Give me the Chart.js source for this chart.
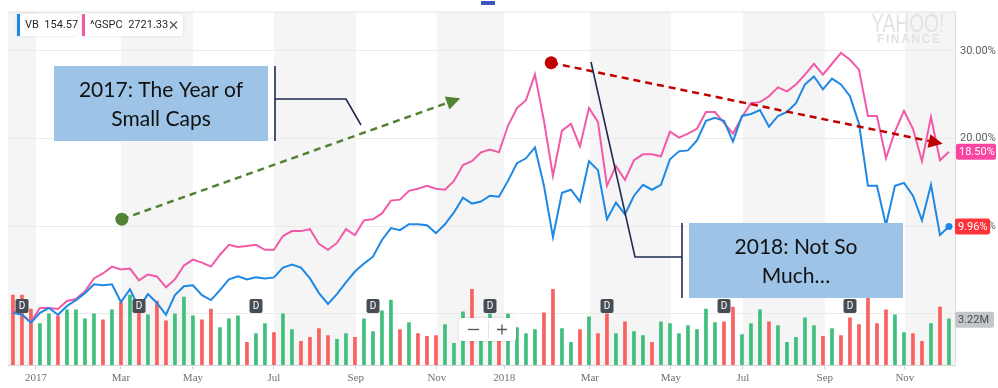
<!DOCTYPE html>
<html>
<head>
<meta charset="utf-8">
<script src="https://cdn.jsdelivr.net/npm/chart.js@4.4.1/dist/chart.umd.min.js"></script>
<style>
  html, body { margin: 0; padding: 0; background: #fff; }
  #wrap { width: 998px; height: 388px; position: relative; }
</style>
</head>
<body>
<div id="wrap"><canvas id="chart"></canvas></div>
<script>
// weekly closes, Dec 2016 - Dec 2018, % change since the first week
var vbPct = [
  0.11, -0.11, -1.01, 0.11, 0.67, -0.11, 0.90, 1.57, 2.36, 3.37,
  3.26, 3.37, 1.35, 2.81, 0.67, 2.25, 1.24, -0.11, 2.13, 3.15,
  3.26, 2.13, 1.57, 2.70, 3.93, 4.27, 3.93, 4.16, 4.04, 4.16,
  5.28, 5.62, 5.28, 4.04, 2.36, 1.12, 2.25, 3.60, 4.83, 5.73,
  6.52, 8.43, 9.78, 9.55, 10.22, 10.22, 10.11, 9.21, 10.22, 11.57,
  13.26, 12.58, 12.81, 13.48, 13.37, 15.17, 17.19, 17.75, 18.99, 14.61,
  8.76, 13.82, 14.16, 12.81, 17.42, 16.40, 10.79, 12.70, 11.35, 13.48,
  14.72, 14.16, 14.72, 17.64, 18.54, 18.65, 19.78, 22.02, 22.36, 22.02,
  19.66, 22.58, 22.81, 23.26, 21.35, 22.58, 23.03, 24.04, 26.18, 27.08,
  25.62, 26.85, 26.18, 24.83, 21.69, 14.61, 14.61, 10.11, 14.61, 14.94,
  13.48, 10.67, 14.72, 8.99, 9.96
];
var gspcPct = [
  0.34, -0.11, -0.90, 0.67, 0.67, 0.56, 1.46, 1.69, 2.58, 4.04,
  4.61, 5.39, 5.06, 5.17, 3.82, 4.49, 4.27, 3.03, 3.93, 5.51,
  6.18, 5.84, 5.39, 6.74, 7.87, 7.64, 7.75, 7.87, 7.30, 7.30,
  8.88, 9.44, 9.44, 9.66, 7.98, 7.30, 8.09, 9.66, 8.99, 10.67,
  10.79, 11.46, 12.92, 13.03, 14.04, 14.27, 14.61, 14.27, 14.16, 15.17,
  16.97, 17.42, 18.43, 18.76, 18.43, 21.46, 23.48, 24.38, 27.30, 22.02,
  15.73, 20.90, 21.69, 19.10, 23.48, 21.91, 14.61, 16.85, 15.28, 17.53,
  18.20, 18.20, 17.98, 20.79, 20.11, 20.56, 21.12, 23.03, 23.03, 21.80,
  20.56, 22.47, 24.04, 24.16, 24.83, 25.84, 25.39, 26.18, 27.30, 28.54,
  27.30, 28.54, 29.78, 28.99, 27.87, 22.58, 22.58, 17.75, 20.79, 23.15,
  21.12, 17.42, 22.47, 17.53, 18.50
];
// VB weekly volume, millions of shares, and week direction (1 up, -1 down)
var vbVolume = [
  4.86, 4.86, 3.90, 2.88, 3.56, 3.42, 3.84, 3.84, 3.22, 3.56,
  3.15, 3.84, 4.38, 4.86, 4.25, 3.49, 4.45, 3.08, 3.56, 4.73,
  3.42, 3.15, 3.90, 2.60, 3.22, 3.42, 1.58, 2.19, 2.88, 2.26,
  3.56, 2.47, 1.64, 1.92, 2.53, 2.05, 1.78, 2.19, 1.92, 3.22,
  2.33, 3.77, 4.52, 2.47, 2.95, 2.19, 1.99, 2.05, 2.81, 1.51,
  3.70, 5.27, 2.40, 3.56, 2.40, 3.56, 2.60, 2.19, 2.47, 3.63,
  5.27, 2.53, 1.58, 2.47, 3.36, 2.19, 3.56, 2.19, 3.01, 2.33,
  2.05, 1.58, 3.01, 2.88, 2.19, 2.74, 2.47, 3.90, 2.95, 3.01,
  4.04, 2.12, 2.88, 3.84, 3.01, 2.74, 1.58, 1.92, 3.29, 2.74,
  1.99, 2.53, 2.05, 3.29, 2.81, 4.73, 2.88, 3.84, 3.49, 2.26,
  2.19, 1.64, 2.88, 4.04, 3.22
];
var vbUpDown = [
  -1,-1,-1, 1, 1,-1, 1, 1, 1, 1,
  -1, 1,-1, 1,-1, 1,-1,-1, 1, 1,
   1,-1,-1, 1, 1, 1,-1, 1, 1,-1,
   1, 1,-1,-1,-1,-1, 1, 1,-1, 1,
   1, 1, 1,-1, 1,-1,-1,-1, 1, 1,
   1,-1, 1, 1,-1, 1, 1, 1, 1,-1,
  -1, 1, 1,-1, 1,-1,-1, 1,-1, 1,
   1,-1, 1, 1, 1, 1, 1, 1, 1,-1,
  -1, 1, 1, 1,-1, 1, 1, 1, 1, 1,
  -1, 1,-1,-1,-1,-1,-1,-1, 1, 1,
  -1,-1, 1,-1, 1
];
var dividendWeeks = [1, 14, 27, 40, 53, 66, 79, 93];

// x axis: month ticks in week units
var tickPos = [2.56, 12.0, 20.0, 29.0, 38.1, 47.1, 54.6, 64.1, 73.1, 81.1, 90.2, 99.1];
var tickLabels = ["2017", "Mar", "May", "Jul", "Sep", "Nov", "2018", "Mar", "May", "Jul", "Sep", "Nov"];
var priceTicks = [0, 10, 20, 30];

var lastVB = vbPct[vbPct.length - 1];
var lastGSPC = gspcPct[gspcPct.length - 1];
var lastVol = vbVolume[vbVolume.length - 1];

// annotation arrows, in chart units (week, %)
var arrows = [
  { from: { x: 12.1, y: 10.8 }, to: { x: 49.7, y: 24.6 }, color: "#548235" },
  { from: { x: 59.8, y: 28.65 }, to: { x: 103.3, y: 19.4 }, color: "#c00000" }
];

function toPoints(arr) {
  var out = [];
  for (var i = 0; i < arr.length; i++) out.push({ x: i, y: arr[i] });
  return out;
}

var bands = {
  id: "bands",
  beforeDraw: function (c) {
    var a = c.chartArea, sx = c.scales.x, g = c.ctx;
    var edges = [sx.min].concat(tickPos, [sx.max]);
    g.save();
    g.fillStyle = "#f5f5f5";
    for (var k = 0; k < edges.length - 1; k += 2) {
      var x0 = sx.getPixelForValue(edges[k]), x1 = sx.getPixelForValue(edges[k + 1]);
      g.fillRect(x0, a.top, x1 - x0, a.bottom - a.top);
    }
    g.strokeStyle = "#e4e4e4";
    g.lineWidth = 1;
    g.beginPath();
    g.moveTo(a.left, a.top + 0.5);
    g.lineTo(a.right, a.top + 0.5);
    g.stroke();
    g.restore();
  }
};

function roundRect(g, x, y, w, h, r) {
  g.beginPath();
  g.moveTo(x + r, y);
  g.arcTo(x + w, y, x + w, y + h, r);
  g.arcTo(x + w, y + h, x, y + h, r);
  g.arcTo(x, y + h, x, y, r);
  g.arcTo(x, y, x + w, y, r);
  g.closePath();
}

function badge(g, x, yc, w, bg, fg, text) {
  roundRect(g, x, yc - 8, w, 16, 2);
  g.fillStyle = bg;
  g.fill();
  g.fillStyle = fg;
  g.font = "11px Roboto";
  g.textAlign = "left";
  g.textBaseline = "middle";
  g.fillText(text, x + 3, yc + 0.5);
}

function dashedArrow(g, x0, y0, x1, y1, color) {
  var ang = Math.atan2(y1 - y0, x1 - x0), L = 14, W = 7;
  var bx = x1 - L * Math.cos(ang), by = y1 - L * Math.sin(ang);
  g.strokeStyle = color;
  g.lineWidth = 2.5;
  g.setLineDash([7, 5]);
  g.beginPath();
  g.moveTo(x0, y0);
  g.lineTo(bx, by);
  g.stroke();
  g.setLineDash([]);
  g.fillStyle = color;
  g.beginPath();
  g.moveTo(x1, y1);
  g.lineTo(bx + W * Math.sin(ang), by - W * Math.cos(ang));
  g.lineTo(bx - W * Math.sin(ang), by + W * Math.cos(ang));
  g.closePath();
  g.fill();
  g.beginPath();
  g.arc(x0, y0, 6.5, 0, Math.PI * 2);
  g.fill();
}

function textBox(g, x, y, w, h, lines) {
  g.fillStyle = "#9dc3e6";
  g.fillRect(x, y, w, h);
  g.fillStyle = "#111";
  g.font = "21px Lato";
  g.textAlign = "center";
  g.textBaseline = "alphabetic";
  g.fillText(lines[0], x + w / 2, y + 31);
  g.fillText(lines[1], x + w / 2, y + 60);
}

function polyline(g, pts) {
  g.beginPath();
  g.moveTo(pts[0][0], pts[0][1]);
  for (var i = 1; i < pts.length; i++) g.lineTo(pts[i][0], pts[i][1]);
  g.stroke();
}

var overlay = {
  id: "overlay",
  afterDraw: function (c) {
    var g = c.ctx, sx = c.scales.x, sy = c.scales.y, sv = c.scales.yv;
    g.save();

    // dividend markers
    dividendWeeks.forEach(function (w) {
      var px = Math.round(sx.getPixelForValue(w));
      roundRect(g, px - 6.5, 299, 13, 14, 2);
      g.fillStyle = "#474d54";
      g.fill();
      g.fillStyle = "#fff";
      g.font = "10px Roboto";
      g.textAlign = "center";
      g.textBaseline = "middle";
      g.fillText("D", px, 306.5);
    });

    // zoom control
    g.shadowColor = "rgba(0,0,0,0.15)";
    g.shadowBlur = 3;
    roundRect(g, 459, 318, 57, 23, 3);
    g.fillStyle = "#fff";
    g.fill();
    g.shadowBlur = 0;
    g.strokeStyle = "#e3e3e3";
    g.lineWidth = 1;
    g.beginPath(); g.moveTo(488.5, 321); g.lineTo(488.5, 338); g.stroke();
    g.strokeStyle = "#555";
    g.lineWidth = 1.3;
    g.beginPath(); g.moveTo(468, 329.5); g.lineTo(479, 329.5); g.stroke();
    g.beginPath(); g.moveTo(497, 329.5); g.lineTo(507, 329.5); g.moveTo(502, 324.5); g.lineTo(502, 334.5); g.stroke();

    // legend chips
    var chips = [
      { x: 17, w: 60, color: "#1e88e5", text: "VB  154.57" },
      { x: 82, w: 101, color: "#f25aa8", text: "^GSPC  2721.33" }
    ];
    chips.forEach(function (ch) {
      g.shadowColor = "rgba(0,0,0,0.12)";
      g.shadowBlur = 3;
      roundRect(g, ch.x, 14, ch.w, 22, 2);
      g.fillStyle = "#fff";
      g.fill();
      g.shadowBlur = 0;
      g.fillStyle = ch.color;
      g.fillRect(ch.x, 14, 3, 22);
      g.fillStyle = "#26282a";
      g.font = "11px Roboto";
      g.textAlign = "left";
      g.textBaseline = "middle";
      g.fillText(ch.text, ch.x + 8, 25.5);
    });
    g.strokeStyle = "#555";
    g.lineWidth = 1.2;
    g.beginPath(); g.moveTo(170, 21.5); g.lineTo(177, 28.5); g.moveTo(177, 21.5); g.lineTo(170, 28.5); g.stroke();

    // top handle
    g.fillStyle = "#4052c2";
    g.fillRect(481, 1, 14, 4);

    // watermark
    g.fillStyle = "#e3e3e3";
    g.save();
    g.translate(871, 32);
    g.scale(0.74, 1);
    g.font = "26px 'Liberation Sans'";
    g.textAlign = "left";
    g.textBaseline = "alphabetic";
    g.fillText("YAHOO!", 0, 0);
    g.restore();
    g.font = "bold 12px 'Liberation Sans'";
    g.textAlign = "left";
    g.textBaseline = "alphabetic";
    var fx = 877;
    "FINANCE".split("").forEach(function (ch) {
      g.fillText(ch, fx, 43);
      fx += g.measureText(ch).width + 1.6;
    });

    // last value badges on the right axis
    badge(g, 956, sy.getPixelForValue(lastGSPC), 40, "#fb45a2", "#fff", lastGSPC.toFixed(2) + "%");
    badge(g, 955, sy.getPixelForValue(lastVB), 35, "#ff333a", "#fff", lastVB.toFixed(2) + "%");
    badge(g, 955, sv.getPixelForValue(lastVol) + 1, 39, "#c3c7cc", "#4a4f55", lastVol.toFixed(2) + "M");

    // annotation arrows
    arrows.forEach(function (ar) {
      dashedArrow(g, sx.getPixelForValue(ar.from.x), sy.getPixelForValue(ar.from.y),
        sx.getPixelForValue(ar.to.x), sy.getPixelForValue(ar.to.y), ar.color);
    });

    // callout boxes
    g.strokeStyle = "#1f2c4f";
    g.lineWidth = 1.6;
    polyline(g, [[275, 66], [275, 141]]);
    polyline(g, [[275, 99], [346, 99], [361, 125]]);
    polyline(g, [[682, 223], [682, 298]]);
    polyline(g, [[682, 257], [635, 257], [591, 62]]);
    textBox(g, 54, 66, 214, 75, ["2017: The Year of", "Small Caps"]);
    textBox(g, 689, 223, 214, 75, ["2018: Not So", "Much\u2026"]);

    g.restore();
  }
};

var ctx = document.getElementById("chart").getContext("2d");

new Chart(ctx, {
  type: "line",
  data: {
    datasets: [{
      label: "VB",
      data: toPoints(vbPct),
      borderColor: "#1e88e5",
      backgroundColor: "#1e88e5",
      borderWidth: 2,
      tension: 0,
      pointRadius: function (c) { return c.dataIndex === vbPct.length - 1 ? 3.5 : 0; },
      pointBorderWidth: 0,
      yAxisID: "y",
      order: 1
    }, {
      label: "^GSPC",
      data: toPoints(gspcPct),
      borderColor: "#f25aa8",
      borderWidth: 2,
      tension: 0,
      pointRadius: 0,
      yAxisID: "y",
      order: 2
    }, {
      type: "bar",
      label: "Volume",
      data: toPoints(vbVolume),
      backgroundColor: vbUpDown.map(function (d) { return d > 0 ? "#3fbf7c" : "#f7615f"; }),
      barThickness: 3,
      yAxisID: "yv",
      order: 3
    }]
  },
  options: {
    responsive: true,
    maintainAspectRatio: false,
    animation: false,
    layout: { padding: { left: 8, top: 6, right: 0, bottom: 0 } },
    plugins: { legend: { display: false }, tooltip: { enabled: false } },
    scales: {
      x: {
        type: "linear",
        offset: false,
        min: -0.55,
        max: 104.67,
        afterBuildTicks: function (s) { s.ticks = tickPos.map(function (v) { return { value: v }; }); },
        afterFit: function (s) { s.height = 23; },
        ticks: {
          autoSkip: false,
          maxRotation: 0,
          padding: 3,
          color: "#707070",
          font: { family: "Liberation Serif", size: 11 },
          callback: function (v, i) { return tickLabels[i]; }
        },
        grid: { offset: false, drawOnChartArea: false, drawTicks: true, tickLength: 4, color: "#cfcfcf" },
        border: { color: "#d4d4d4" }
      },
      y: {
        position: "right",
        min: -5.84,
        max: 34.49,
        afterBuildTicks: function (s) { s.ticks = priceTicks.map(function (v) { return { value: v }; }); },
        afterFit: function (s) { s.width = 43; },
        ticks: {
          padding: 5,
          color: "#5b5f63",
          font: { family: "Roboto", size: 11 },
          callback: function (v) { return v === 0 ? "" : v.toFixed(2) + "%"; }
        },
        grid: { color: "#ebebeb", drawTicks: false },
        border: { color: "#e0e0e0" }
      },
      yv: { display: false, min: 0, max: 24.6 }
    }
  },
  plugins: [bands, overlay]
});
</script>
</body>
</html>
